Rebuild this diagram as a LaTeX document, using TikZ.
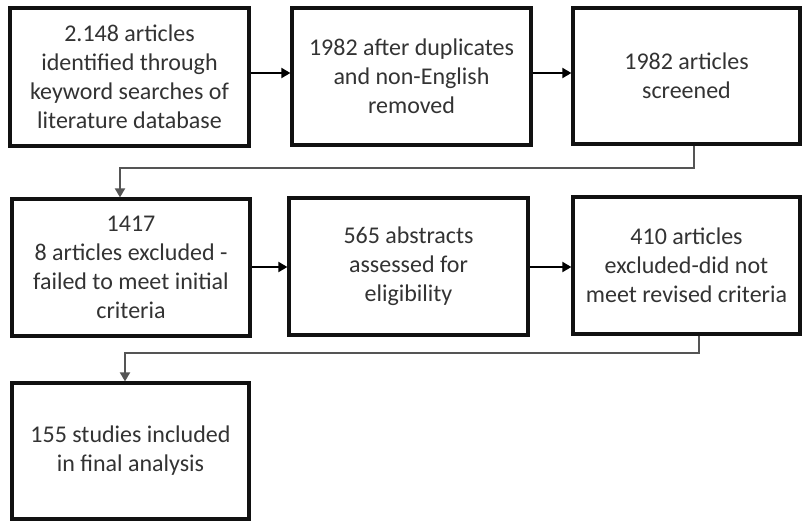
\documentclass[tikz,border=0pt]{standalone}
\usepackage{fontspec}
\setmainfont{Carlito}
\usetikzlibrary{arrows.meta}
\definecolor{txt}{HTML}{333333}
\definecolor{edge}{HTML}{111111}
\definecolor{wire}{HTML}{555555}
\tikzset{
  stagebox/.style={draw=edge, line width=3.2pt, fill=white, rectangle,
    align=center, text=txt, font=\fontsize{24}{29}\selectfont, inner sep=0pt},
  flow/.style={draw=black, line width=1.8pt, -{Triangle[length=9pt,width=10pt]}},
  elbow/.style={draw=wire, line width=1.8pt, -{Triangle[length=9pt,width=10pt]}, color=wire}
}
\begin{document}
\begin{tikzpicture}[x=1pt,y=-1pt]
  \useasboundingbox (0,0) rectangle (803,520);
  \fill[white] (0,0) rectangle (803,520);

  % first row
  \node[stagebox, minimum width=239pt, minimum height=138pt] (b1) at (129.5,77)
    {2.148 articles\\identified through\\keyword searches of\\literature database};
  \node[stagebox, minimum width=239pt, minimum height=137pt] (b2) at (411.5,76.5)
    {1982 after duplicates\\and non-English\\removed};
  \node[stagebox, minimum width=227pt, minimum height=136pt] (b3) at (686.5,76)
    {1982 articles\\screened};

  % second row
  \node[stagebox, minimum width=238pt, minimum height=137pt] (b4) at (131,267.5)
    {1417\\8 articles excluded -\\failed to meet initial\\criteria};
  \node[stagebox, minimum width=239pt, minimum height=137pt] (b5) at (408.5,266.5)
    {565 abstracts\\assessed for\\eligibility};
  \node[stagebox, minimum width=227pt, minimum height=137pt] (b6) at (686.5,265.5)
    {410 articles\\excluded-did not\\meet revised criteria};

  % last row
  \node[stagebox, minimum width=237pt, minimum height=136pt] (b7) at (130.5,451)
    {155 studies included\\in final analysis};

  % straight links within a row
  \draw[flow] (b1.east |- 0,73) -- (b2.west |- 0,73);
  \draw[flow] (b2.east |- 0,73) -- (b3.west |- 0,73);
  \draw[flow] (b4.east |- 0,267) -- (b5.west |- 0,267);
  \draw[flow] (b5.east |- 0,267) -- (b6.west |- 0,267);

  % elbow links down to the next row
  \coordinate (r1) at (694,168);
  \coordinate (l1) at (120,168);
  \draw[elbow] (r1 |- b3.south) -- (r1) -- (l1) -- (l1 |- b4.north);
  \coordinate (r2) at (699,353);
  \coordinate (l2) at (125,353);
  \draw[elbow] (r2 |- b6.south) -- (r2) -- (l2) -- (l2 |- b7.north);
\end{tikzpicture}
\end{document}
